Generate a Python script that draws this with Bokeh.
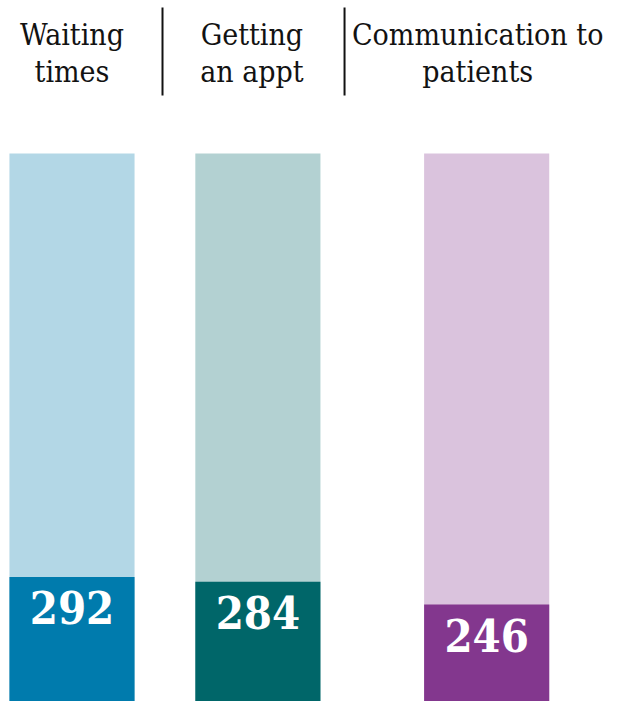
from bokeh.plotting import figure
from bokeh.models import Range1d, ColumnDataSource, LabelSet, Label
from bokeh.core.properties import value
from bokeh.embed import file_html
from bokeh.resources import INLINE

# ---- data ----
categories = ["Waiting times", "Getting an appt", "Communication to patients"]
groups = ["access", "access", "contact"]
headings = ["Waiting\ntimes", "Getting\nan appt", "Communication to\npatients"]
counts = [292, 284, 246]
base_total = [1000, 1000, 1000]
count_labels = [str(c) for c in counts]
dark_colors = ["#007BAD", "#006669", "#83378E"]
light_colors = ["#B3D7E6", "#B3D1D2", "#DAC3DD"]

# ---- styling / layout ----
FACTOR_PAD, GROUP_PAD = 0.3, 0.6
BAR_W = 0.875
heading_shift = [0, -6, -9]
divider_gap = [0.633, 0.606]
X_START, X_END = 0.0, 4.231
Y_START, Y_END = 84, 1255.7


def slot_centers(grps):
    """Column centres: unit-wide slots, small gap within a group, wider gap between groups."""
    out, pos, prev = [], 0.0, None
    for g in grps:
        if prev is not None:
            pos += GROUP_PAD if g != prev else FACTOR_PAD
        out.append(pos + 0.5)
        pos += 1.0
        prev = g
    return out


centers = slot_centers(groups)

src = ColumnDataSource(data=dict(
    x=centers, cat=categories, count=counts, base=base_total, label=count_labels,
    dark=dark_colors, light=light_colors,
))

p = figure(
    x_range=Range1d(X_START, X_END),
    y_range=Range1d(Y_START, Y_END),
    width=605, height=701, output_backend="svg", toolbar_location=None,
    x_axis_location=None, y_axis_location=None,
    min_border_left=0, min_border_right=0, min_border_top=0, min_border_bottom=0,
)
p.grid.visible = False
p.outline_line_color = None
p.background_fill_color = "white"
p.border_fill_color = "white"

p.vbar(x="x", top="base", bottom=0, width=BAR_W, fill_color="light", line_color=None, source=src)
p.vbar(x="x", top="count", bottom=0, width=BAR_W, fill_color="dark", line_color=None, source=src)

# dividers between the headings
div_x = [c + g for c, g in zip(centers[:2], divider_gap)]
p.segment(x0=div_x, x1=div_x, y0=[1244] * 2, y1=[1097] * 2, line_color="#121212", line_width=2)

for cx, h, dx in zip(centers, headings, heading_shift):
    p.add_layout(Label(x=cx, y=Y_END, text=h, x_offset=dx, y_offset=-16,
                       text_align="center", text_baseline="top",
                       text_font="DejaVu Serif Condensed", text_font_size="30px",
                       text_color="#121212", text_line_height=1.06))

nums = LabelSet(x="x", y="count", text="label", source=src,
                text_align="center", text_baseline="top", y_offset=-14,
                text_font=value("DejaVu Serif Condensed"), text_font_size="45px",
                text_font_style="bold", text_color="white")
p.add_layout(nums)

open("out.html", "w").write(file_html(p, INLINE))
